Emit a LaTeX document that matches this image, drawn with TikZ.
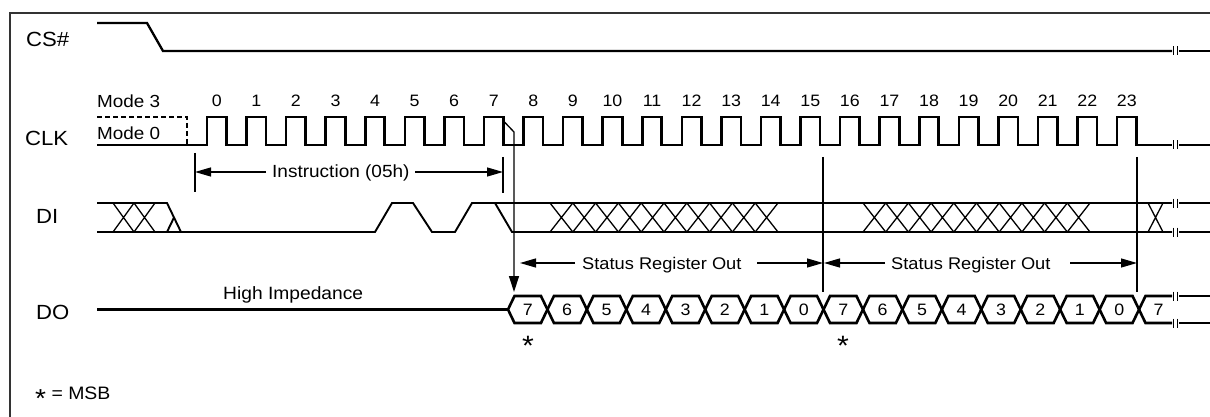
\documentclass[tikz,border=0pt]{standalone}
\usepackage{fontspec}
\setmainfont{Liberation Sans}[FakeStretch=1.08]
\usetikzlibrary{arrows.meta}
\newcommand\fsz[1]{\fontsize{#1}{#1}\selectfont}
\begin{document}
\begin{tikzpicture}[x=1pt,y=-1pt,
  frame/.style={line width=1.2pt, draw=black!80},
  sig/.style={line width=2.6pt},
  csline/.style={line width=2.3pt},
  rail/.style={line width=1.9pt},
  xline/.style={line width=1.3pt},
  thinv/.style={line width=1.3pt},
  dim/.style={line width=1.3pt, -{Triangle[length=16pt,width=9pt]}},
  brk/.style={line width=1.7pt},
  lab/.style={inner sep=0pt, anchor=base west, font=\fsz{20.5}},
  txt/.style={inner sep=0pt, anchor=base west, font=\fsz{17.5}},
  num/.style={inner sep=0pt, anchor=base, font=\fsz{16.5}},
]
\useasboundingbox (0,0) rectangle (1210,417);
% frame
\draw[frame] (10,417) -- (10,13) -- (1210,13);

% signal labels
\node[lab] (lcs) at (26,47) {CS\#};
\node[lab] (lclk) at (25,146) {CLK};
\node[lab] (ldi) at (36,223) {DI};
\node[lab] (ldo) at (36,319) {DO};
\node[txt] (m3) at (97,108) {Mode 3};
\node[txt] (m0) at (97,140) {Mode 0};
\node[txt, font=\fsz{18}] (msb) at (35,399) {\raisebox{-8pt}{\fsz{26}*} = MSB};

% CS#
\draw[csline] (97,23) -- (147,23) -- (163,51) -- (1172,51);
\draw[csline] (1179,51) -- (1210,51);

% CLK
\draw[sig, dash pattern=on 5pt off 3pt] (97,117) -- (187,117) -- (187,145);
\draw[sig] (97,145) foreach \i in {0,...,23} {
   -- ({207+39.57*\i},145) -- ({207+39.57*\i},117)
   -- ({226.5+39.57*\i},117) -- ({226.5+39.57*\i},145) } -- (1172,145);
\draw[sig] (1179,145) -- (1210,145);
\foreach \i in {0,...,23} {
  \node[num] (n\i) at ({216.75+39.57*\i},106.7) {\i};
}

% Instruction
\draw[thinv] (195,153) -- (195,192);
\draw[thinv] (503,157) -- (503,193);
\node[txt, font=\fsz{17.6}] (instr) at (272,177.7) {Instruction (05h)};
\draw[dim] (266,172) -- (195,172);
\draw[dim] (415,172) -- (503,172);

% DI
\draw[rail] (97,203) -- (167,203) -- (181,232);
\draw[rail] (97,232) -- (375,232) -- (392,203) -- (413,203) -- (432,232)
   -- (455,232) -- (472,203) -- (1172,203);
\draw[rail] (167,232) -- (174,217.5);
\draw[rail] (495,203) -- (512,232) -- (1172,232);
\draw[rail] (1179,203) -- (1210,203);
\draw[rail] (1179,232) -- (1210,232);
\foreach \k in {0,1} {
  \draw[xline] ({113+21*\k},203) -- ({113+21*(\k+1)},232)
               ({113+21*\k},232) -- ({113+21*(\k+1)},203);
}
\foreach \k in {0,...,9} {
  \draw[xline] ({550+22.8*\k},203) -- ({550+22.8*(\k+1)},232)
               ({550+22.8*\k},232) -- ({550+22.8*(\k+1)},203);
  \draw[xline] ({863+22.7*\k},203) -- ({863+22.7*(\k+1)},232)
               ({863+22.7*\k},232) -- ({863+22.7*(\k+1)},203);
}
\draw[xline] (1148,203) -- (1163,232) (1148,232) -- (1163,203);

% arrow from falling edge of clock 7
\draw[line width=1.3pt, -{Triangle[length=16pt,width=10pt]}]
   (503.5,121) -- (514,132) -- (514,292);

% Status register out
\draw[thinv] (823,157) -- (823,292);
\draw[thinv] (1137,157) -- (1137,292);
\node[txt, font=\fsz{16.9}] (sro1) at (582,269) {Status Register Out};
\node[txt, font=\fsz{16.9}] (sro2) at (891,269) {Status Register Out};
\draw[dim] (575,263) -- (520,263);
\draw[dim] (757,263) -- (823,263);
\draw[dim] (885,263) -- (824,263);
\draw[dim] (1070,263) -- (1137,263);

% DO
\node[txt, font=\fsz{17.8}] (hiz) at (223,299.3) {High Impedance};
\draw[sig] (97,309.5) -- (508,309.5);
\foreach \k/\d in {0/7,1/6,2/5,3/4,4/3,5/2,6/1,7/0,8/7,9/6,10/5,11/4,12/3,13/2,14/1,15/0} {
  \draw[sig] ({508+39.44*\k},309.5) -- ({514.5+39.44*\k},296)
     -- ({501.5+39.44*(\k+1)},296) -- ({508+39.44*(\k+1)},309.5)
     -- ({501.5+39.44*(\k+1)},323) -- ({514.5+39.44*\k},323) -- cycle;
  \node[num] (d\k) at ({527.7+39.44*\k},315.4) {\d};
}
\draw[sig] (1139,309.5) -- (1145.5,296) -- (1172,296);
\draw[sig] (1139,309.5) -- (1145.5,323) -- (1172,323);
\draw[sig] (1179,296) -- (1210,296);
\draw[sig] (1179,323) -- (1210,323);
\node[num] (d16) at (1158.5,315.4) {7};
\node[num, font=\fsz{28}] (st1) at (528,355) {*};
\node[num, font=\fsz{28}] (st2) at (843,355) {*};

% break marks
\foreach \yy in {51,145,203,232,296,323} {
  \draw[brk] (1173.5,{\yy-4.5}) -- (1173.5,{\yy+4.5});
  \draw[brk] (1177.5,{\yy-4.5}) -- (1177.5,{\yy+4.5});
}
\end{tikzpicture}
\end{document}
